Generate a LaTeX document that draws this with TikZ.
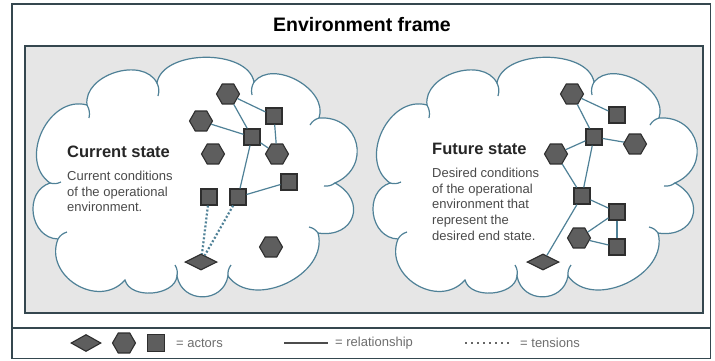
\documentclass[tikz,border=0pt]{standalone}
\usepackage{fontspec}
\setmainfont{Liberation Sans}
\usetikzlibrary{shapes.geometric}

\definecolor{cloudline}{HTML}{4F8197}
\definecolor{actorfill}{HTML}{5E5E5E}
\definecolor{actorline}{HTML}{2E2E2E}
\definecolor{panelgrey}{HTML}{E6E6E6}
\definecolor{frameline}{HTML}{35474F}
\definecolor{bodytext}{HTML}{4A4A4A}
\definecolor{legendtext}{HTML}{6E6E6E}

\tikzset{
  actor/.style={draw=actorline, fill=actorfill, line width=1.1pt, inner sep=0pt},
  hexa/.style={actor, regular polygon, regular polygon sides=6, minimum size=23pt},
  sqr/.style={actor, rectangle, minimum size=16pt},
  dmd/.style={actor, diamond, minimum width=32pt, minimum height=16pt},
  link/.style={draw=cloudline, line width=1.2pt},
  tensionline/.style={draw=cloudline, line width=2.2pt, dash pattern=on 2pt off 2pt},
  cloudstroke/.style={draw=cloudline, line width=1.2pt},
  lobe/.style={bend right=80, looseness=#1},
  statetitle/.style={anchor=north west, inner sep=0pt, font=\bfseries\fontsize{16.5}{19}\selectfont, text=black!85},
  statetext/.style={anchor=north west, inner sep=0pt, align=left, font=\fontsize{13}{15.6}\selectfont, text=bodytext},
  legendlabel/.style={anchor=west, inner sep=0pt, font=\fontsize{13}{15}\selectfont, text=legendtext},
}

% cloud outline, clockwise from the left
\newcommand\cloudoutline{(50,183)
  to[lobe=1.18] (87,105) to[lobe=1.07] (157,83) to[lobe=0.9] (254,82)
  to[lobe=1.04] (319,118) to[lobe=1.56] (335,183) to[lobe=1.8] (318,233)
  to[lobe=1.1] (228,276) to[lobe=1.42] (177,276) to[lobe=1.0] (125,280)
  to[lobe=1.3] (58,239) to[lobe=1.28] (50,183) -- cycle}

% small hooks at the joins
\newcommand\cloudhooks{%
  (157,83) to[bend right=20] (158,96)
  (254,82) to[bend left=20] (252,95)
  (319,118) to[bend left=20] (310,125)
  (335,183) to[bend right=20] (324,186)
  (318,233) to[bend left=20] (309,227)
  (228,276) to[bend right=20] (231,265)
  (177,276) to[bend left=20] (175,265)
  (58,239) to[bend right=20] (67,232)
  (50,183) to[bend left=20] (61,182)
  (87,105) to[bend right=20] (89,118)}

\begin{document}
\begin{tikzpicture}[x=1pt, y=1pt, yscale=-1]
\useasboundingbox (0,0) rectangle (715,360);

% frame
\draw[frameline, line width=1.5pt, fill=white] (12,4) rectangle (710.5,358.5);
\draw[frameline, line width=1.5pt] (12,328) -- (710.5,328);
\draw[frameline, line width=1.5pt, fill=panelgrey] (25,46) rectangle (703,313);
\node[font=\bfseries\fontsize{19.5}{22}\selectfont] (frametitle) at (362,25) {Environment frame};

% clouds
\path[cloudstroke, fill=white] \cloudoutline;
\path[cloudstroke] \cloudhooks;
\begin{scope}[xshift=340]
  \path[cloudstroke, fill=white] \cloudoutline;
  \path[cloudstroke] \cloudhooks;
\end{scope}

% current state
\node[statetitle] (curtitle) at (67,146) {Current state};
\node[statetext] (curtext) at (67,171) {Current conditions\\of the operational\\environment.};

\node[hexa] (ch1) at (228,94) {};
\node[sqr]  (cs1) at (274,116) {};
\node[hexa] (ch2) at (201,121) {};
\node[sqr]  (cs2) at (252,137) {};
\node[hexa] (ch3) at (213,154) {};
\node[hexa] (ch4) at (277,154) {};
\node[sqr]  (cs3) at (289,182) {};
\node[sqr]  (cs4) at (209,197) {};
\node[sqr]  (cs5) at (238,197) {};
\node[hexa] (ch5) at (271,247) {};
\node[dmd]  (cd1) at (201,262) {};

\draw[link] (ch1) -- (cs1);
\draw[link] (ch1) -- (cs2);
\draw[link] (ch2) -- (cs2);
\draw[link] (cs2) -- (ch4);
\draw[link] (cs1) -- (ch4);
\draw[link] (cs2) -- (cs5);
\draw[link] (cs5) -- (cs3);
\draw[tensionline] (cs4) -- (cd1);
\draw[tensionline] (cs5) -- (cd1);

% future state
\node[statetitle] (futtitle) at (432,143) {Future state};
\node[statetext] (futtext) at (432,168) {Desired conditions\\of the operational\\environment that\\represent the\\desired end state.};

\node[hexa] (fh1) at (572,94) {};
\node[sqr]  (fs1) at (617,115) {};
\node[sqr]  (fs2) at (594,137) {};
\node[hexa] (fh2) at (635,144) {};
\node[hexa] (fh3) at (556,154) {};
\node[sqr]  (fs3) at (582,196) {};
\node[sqr]  (fs4) at (617,212) {};
\node[hexa] (fh4) at (579,238) {};
\node[sqr]  (fs5) at (617,247) {};
\node[dmd]  (fd1) at (543,262) {};

\draw[link] (fh1) -- (fs1);
\draw[link] (fh1) -- (fs2);
\draw[link] (fs2) -- (fh2);
\draw[link] (fs2) -- (fh3);
\draw[link] (fs2) -- (fs3);
\draw[link] (fh3) -- (fs3);
\draw[link] (fs3) -- (fs4);
\draw[link] (fs4) -- (fs5);
\draw[link] (fh4) -- (fs4);
\draw[link] (fh4) -- (fs5);
\draw[link] (fs3) -- (fd1);

% legend
\node[dmd, minimum width=30pt, minimum height=17pt] (legdmd) at (86,343) {};
\node[hexa] (leghex) at (124,343) {};
\node[sqr, minimum size=17pt] (legsqr) at (156,343) {};
\node[legendlabel] (legactors) at (176,343) {= actors};
\coordinate (relA) at (284,343);
\coordinate (relB) at (328,343);
\draw[draw=black!70, line width=2pt] (relA) -- (relB);
\node[legendlabel] (legrel) at (335,343) {= relationship};
\coordinate (tenA) at (465,343);
\coordinate (tenB) at (509,343);
\draw[draw=black!60, line width=2pt, dash pattern=on 2pt off 4pt] (tenA) -- (tenB);
\node[legendlabel] (legten) at (520,343) {= tensions};
\end{tikzpicture}
\end{document}
